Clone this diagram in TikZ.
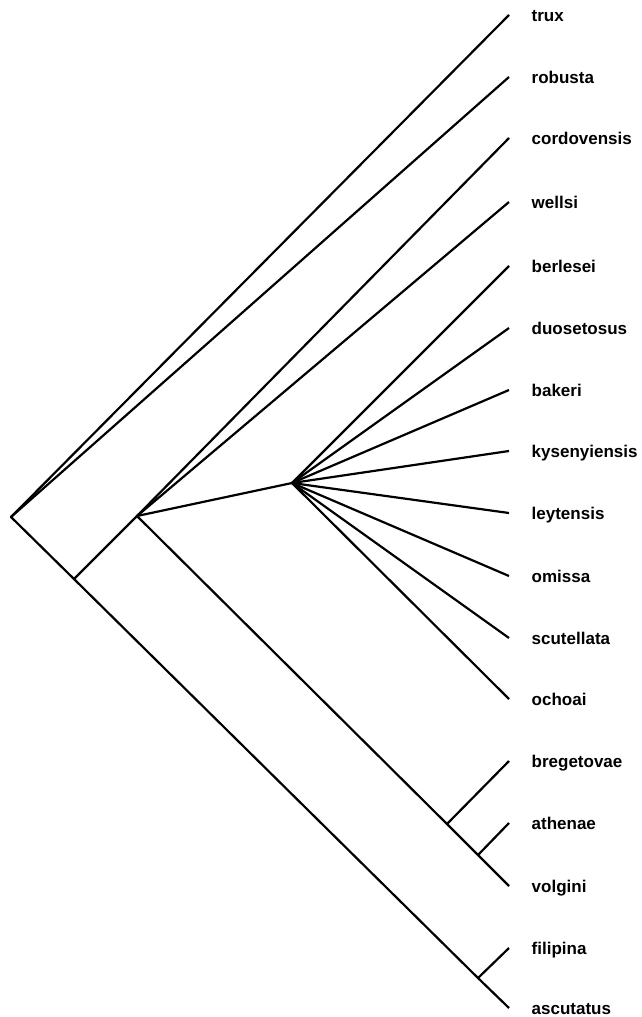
\documentclass[tikz,border=0pt]{standalone}
\usepackage{fontspec}
\setmainfont{Liberation Sans}

\begin{document}
\begin{tikzpicture}[
        x=1pt, y=-1pt,
        branch/.style={draw, line width=2.2pt, line join=round},
        leaf/.style={anchor=base west, inner sep=0pt, xshift=22.5pt, yshift=-6.5pt, font=\bfseries\fontsize{17}{20}\selectfont}
    ]
    \useasboundingbox (0,0) rectangle (641,1017);
    % inner nodes
    \coordinate (root) at (11,517);
    \coordinate (n2) at (74,579);
    \coordinate (n3) at (137,516);
    \coordinate (hub) at (292,483);
    \coordinate (nb) at (447,824);
    \coordinate (na) at (478,855);
    \coordinate (nf) at (478,978);
    % tips
    \coordinate (trux) at (509,15);
    \coordinate (robusta) at (509,77);
    \coordinate (cordovensis) at (509,138);
    \coordinate (wellsi) at (509,202);
    \coordinate (berlesei) at (509,266);
    \coordinate (duosetosus) at (509,328);
    \coordinate (bakeri) at (509,390);
    \coordinate (kysenyiensis) at (509,451);
    \coordinate (leytensis) at (509,513);
    \coordinate (omissa) at (509,576);
    \coordinate (scutellata) at (509,638);
    \coordinate (ochoai) at (509,699);
    \coordinate (bregetovae) at (509,761);
    \coordinate (athenae) at (509,823);
    \coordinate (volgini) at (509,886);
    \coordinate (filipina) at (509,948);
    \coordinate (ascutatus) at (509,1008);
    % labels
    \node[leaf] (trux-l) at (trux) {trux};
    \node[leaf] (robusta-l) at (robusta) {robusta};
    \node[leaf] (cordovensis-l) at (cordovensis) {cordovensis};
    \node[leaf] (wellsi-l) at (wellsi) {wellsi};
    \node[leaf] (berlesei-l) at (berlesei) {berlesei};
    \node[leaf] (duosetosus-l) at (duosetosus) {duosetosus};
    \node[leaf] (bakeri-l) at (bakeri) {bakeri};
    \node[leaf] (kysenyiensis-l) at (kysenyiensis) {kysenyiensis};
    \node[leaf] (leytensis-l) at (leytensis) {leytensis};
    \node[leaf] (omissa-l) at (omissa) {omissa};
    \node[leaf] (scutellata-l) at (scutellata) {scutellata};
    \node[leaf] (ochoai-l) at (ochoai) {ochoai};
    \node[leaf] (bregetovae-l) at (bregetovae) {bregetovae};
    \node[leaf] (athenae-l) at (athenae) {athenae};
    \node[leaf] (volgini-l) at (volgini) {volgini};
    \node[leaf] (filipina-l) at (filipina) {filipina};
    \node[leaf] (ascutatus-l) at (ascutatus) {ascutatus};
    % branches
    \draw[branch] (trux) -- (root) -- (n2) -- (nf) -- (ascutatus);
    \draw[branch] (root) -- (robusta);
    \draw[branch] (nf) -- (filipina);
    \draw[branch] (n2) -- (n3) -- (cordovensis);
    \draw[branch] (n3) -- (wellsi);
    \draw[branch] (n3) -- (nb) -- (na) -- (volgini);
    \draw[branch] (nb) -- (bregetovae);
    \draw[branch] (na) -- (athenae);
    \draw[branch] (n3) -- (hub);
    \draw[branch] (hub) -- (berlesei);
    \draw[branch] (hub) -- (duosetosus);
    \draw[branch] (hub) -- (bakeri);
    \draw[branch] (hub) -- (kysenyiensis);
    \draw[branch] (hub) -- (leytensis);
    \draw[branch] (hub) -- (omissa);
    \draw[branch] (hub) -- (scutellata);
    \draw[branch] (hub) -- (ochoai);
\end{tikzpicture}
\end{document}
